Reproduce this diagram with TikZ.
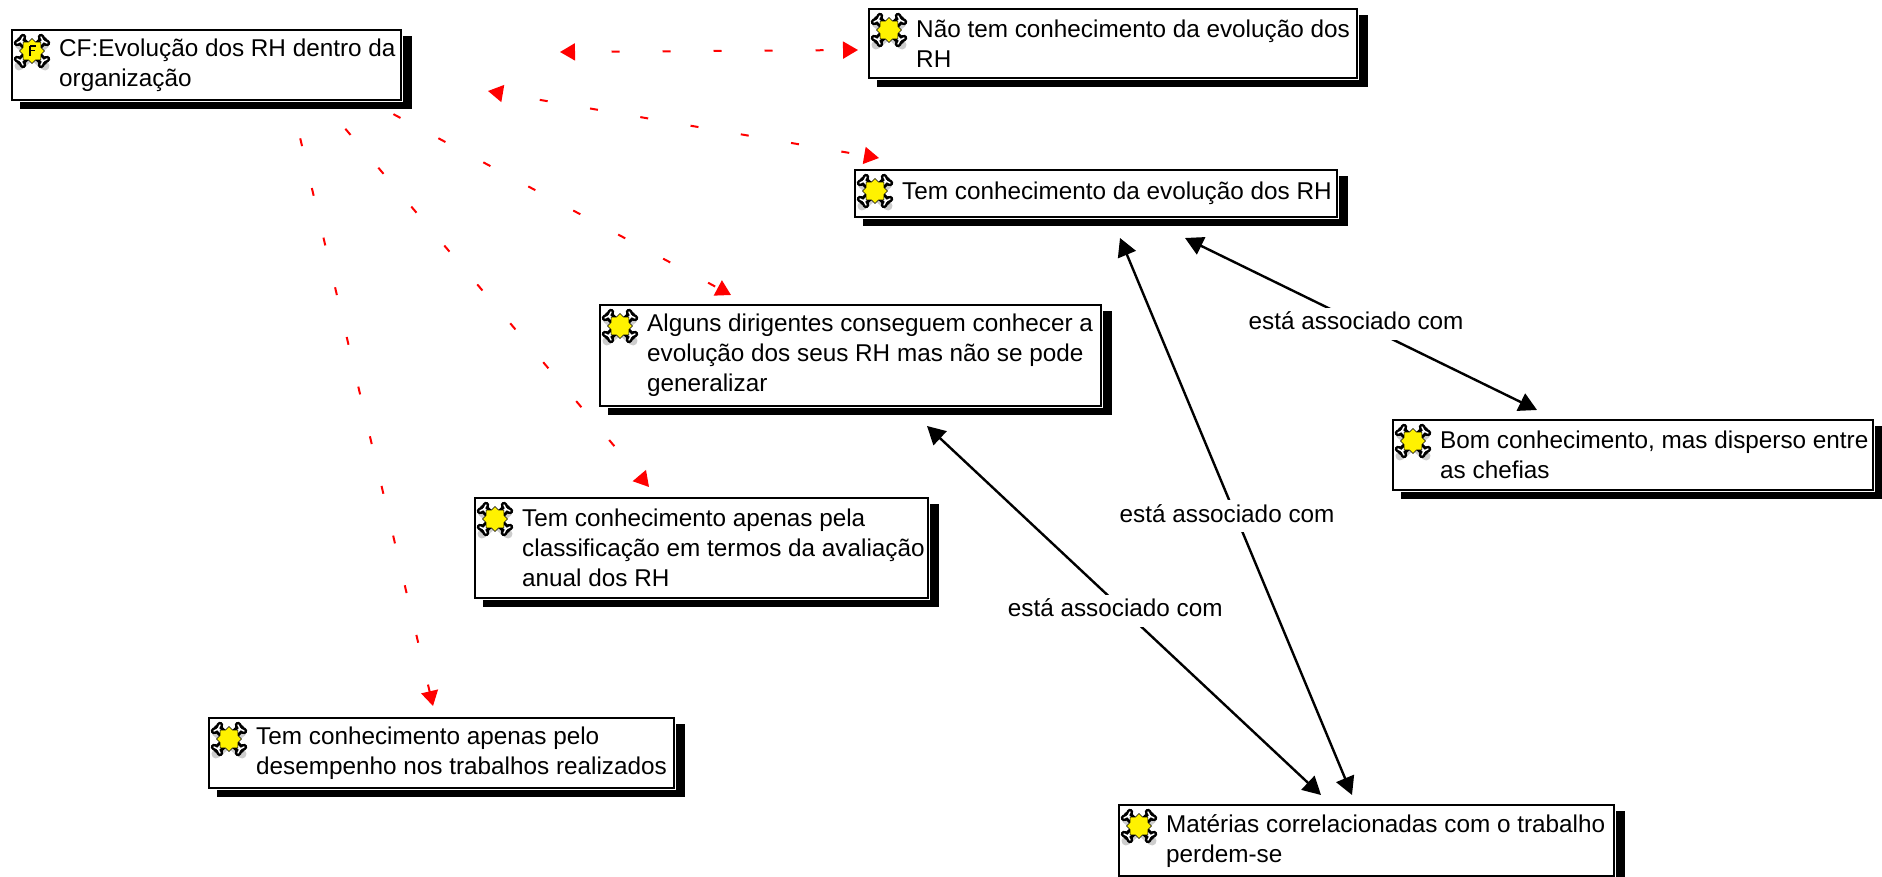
\documentclass[tikz,border=0pt]{standalone}
\usepackage{fontspec}
\setmainfont{Liberation Sans}
\usetikzlibrary{arrows.meta,backgrounds}
\tikzset{
  rhnode/.style={draw=black,line width=2.4pt,fill=white,inner sep=0pt,rectangle,anchor=north west,
    font=\fontsize{24.3}{30}\selectfont},
  lab/.style={fill=white,inner xsep=2pt,inner ysep=0pt,minimum height=32pt,text height=18pt,text depth=6pt,
    font=\fontsize{24.3}{30}\selectfont},
  assoc/.style={draw=black,line width=2.4pt},
  bhead/.style={{Triangle[length=18pt,width=19pt]}-{Triangle[length=18pt,width=19pt]}},
  redlink/.style={draw=red,line width=2pt,dash pattern=on 8pt off 43pt},
  rtip/.tip={Triangle[length=15pt,width=17pt]},
  rhicon/.pic={
    \begin{scope}[shift={(22,23)}]
      \draw[gray!55,line width=9pt,line cap=round,opacity=.7] (-13,-7)--(13,15) (13,-7)--(-13,15);
      \foreach \sx/\sy in {-1/-1,1/-1,-1/1,1/1}{
        \draw[black,line width=9pt,line cap=round] (0,0)--({\sx*11},{\sy*10});
        \draw[black,line width=6.5pt,line cap=round] ({\sx*11},{\sy*10})--({\sx*15},{\sy*8}) ({\sx*11},{\sy*10})--({\sx*9},{\sy*14});
      }
      \foreach \sx/\sy in {-1/-1,1/-1,-1/1,1/1}{
        \draw[white,line width=2.5pt,line cap=round] ({\sx*5},{\sy*4})--({\sx*11},{\sy*10});
        \draw[white,line width=1.5pt,line cap=round] ({\sx*11},{\sy*10})--({\sx*15},{\sy*8}) ({\sx*11},{\sy*10})--({\sx*9},{\sy*14});
      }
      \fill[yellow,draw=black,line width=.5pt] (0:12.5) \foreach \a/\r in {22.5/9.5,45/12.5,67.5/9.5,90/12.5,112.5/9.5,135/12.5,157.5/9.5,180/12.5,202.5/9.5,225/12.5,247.5/9.5,270/12.5,292.5/9.5,315/12.5,337.5/9.5}{ -- (\a:\r) } -- cycle;
    \end{scope}
  },
}
\newcommand\rhbox[6]{%
  \pgfmathsetmacro\shR{min(#4+11,1882)}%
  \pgfmathsetmacro\shB{min(#5+9,877)}%
  \fill[black] ({#2+10},{#3+8}) rectangle (\shR,\shB);
  \fill[white] (#2,#3) rectangle ({#4+2},{#5+2});
  \pgfmathsetlengthmacro\rbw{#4-#2-2}%
  \pgfmathsetlengthmacro\rbh{#5-#3-2}%
  \node[rhnode,minimum width=\rbw,minimum height=\rbh] (#1) at ({#2+1},{#3+1})
    {\makebox[\rbw][l]{\hspace*{47pt}\parbox[c]{560pt}{\raggedright #6}}};
  \pic at (#2,#3) {rhicon};
}
\begin{document}
\begin{tikzpicture}[x=1pt,y=-1pt]
\useasboundingbox (0,0) rectangle (1882,877);
\rhbox{cf}{10}{28}{401}{100}{CF:Evolução dos RH dentro da\\organização}
\draw[black,line width=1.2pt] (30,46)--(30,56) (30,46)--(36,46) (30,50.5)--(35,50.5);
\rhbox{nao}{867}{7}{1357}{78}{Não tem conhecimento da evolução dos\\RH}
\rhbox{tem}{853}{168}{1337}{217}{Tem conhecimento da evolução dos RH}
\rhbox{alg}{598}{303}{1101}{406}{Alguns dirigentes conseguem conhecer a\\evolução dos seus RH mas não se pode\\generalizar}
\rhbox{cla}{473}{496}{928}{598}{Tem conhecimento apenas pela\\classificação em termos da avaliação\\anual dos RH}
\rhbox{des}{207}{716}{674}{788}{Tem conhecimento apenas pelo\\desempenho nos trabalhos realizados}
\rhbox{bom}{1391}{418}{1873}{490}{Bom conhecimento, mas disperso entre\\as chefias}
\rhbox{mat}{1117}{803}{1614}{876}{Matérias correlacionadas com o trabalho\\perdem-se}
% connector ends
\coordinate (r1a) at (560,52);   \coordinate (r1b) at (858,50);
\coordinate (r2a) at (488,91);   \coordinate (r2b) at (879,158);
\coordinate (r3a) at (303.5,66); \coordinate (r3b) at (731,295);
\coordinate (r4a) at (279.4,51); \coordinate (r4b) at (649,487);
\coordinate (r5a) at (277,39);   \coordinate (r5b) at (433,706);
\coordinate (a1a) at (1185,238); \coordinate (a1b) at (1537,410);
\coordinate (a2a) at (1120,238); \coordinate (a2b) at (1352,795);
\coordinate (a3a) at (927,426);  \coordinate (a3b) at (1321,795);
\begin{scope}[on background layer]
  \draw[redlink,dash phase=14pt,rtip-rtip] (r1a) -- (r1b);
  \draw[redlink,dash phase=13pt,rtip-rtip] (r2a) -- (r2b);
  \draw[redlink,-rtip] (r3a) -- (r3b);
  \draw[redlink,-rtip] (r4a) -- (r4b);
  \draw[redlink,-rtip] (r5a) -- (r5b);
  \draw[assoc,bhead] (a1a) -- node[lab,pos=.486,yshift=-2pt] (l1) {está associado com} (a1b);
  \draw[assoc,bhead] (a2a) -- node[lab,pos=.496,xshift=-8pt,yshift=-2pt] (l2) {está associado com} (a2b);
  \draw[assoc,bhead] (a3a) -- node[lab,pos=.493,xshift=-6pt,yshift=-3pt] (l3) {está associado com} (a3b);
\end{scope}
\end{tikzpicture}
\end{document}
